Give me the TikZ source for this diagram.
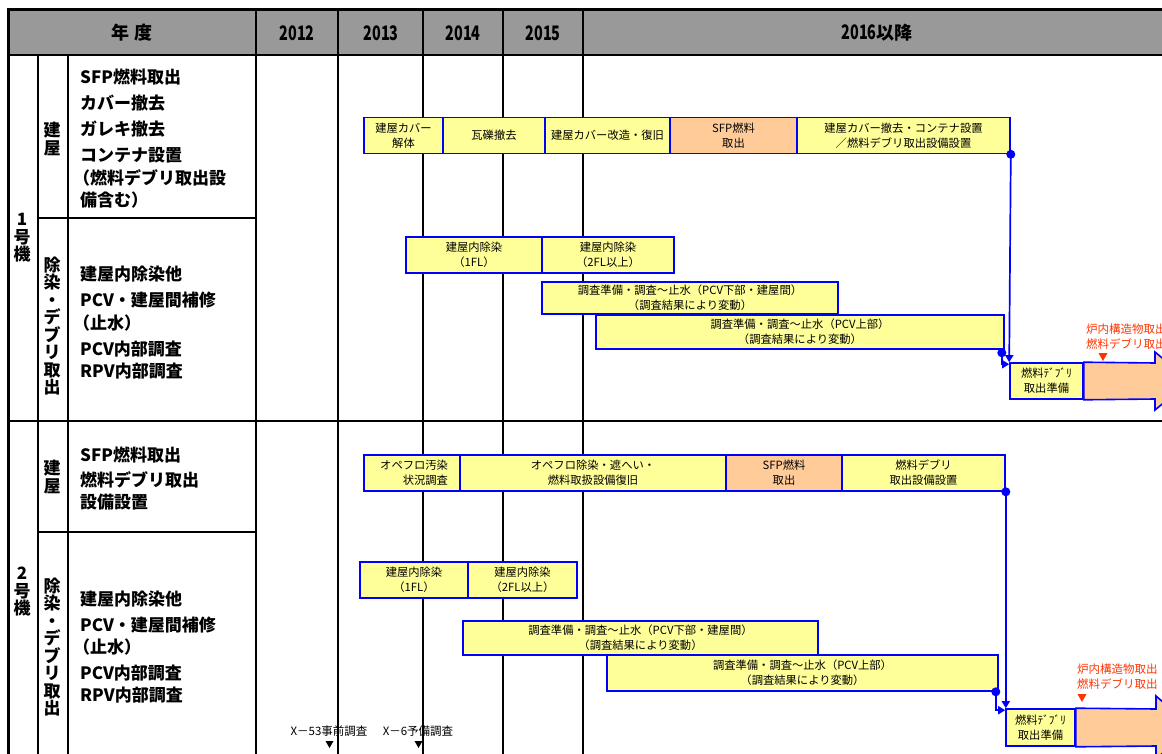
\documentclass[tikz,border=0pt]{standalone}
\usepackage{fontspec}
\setmainfont{Noto Sans CJK JP}
\usetikzlibrary{arrows.meta,calc}
\definecolor{hdrgray}{HTML}{999999}
\definecolor{barY}{HTML}{FFFF99}
\definecolor{barO}{HTML}{FFCC99}
\definecolor{barB}{HTML}{0000FF}
\definecolor{redtxt}{HTML}{FF3300}
\tikzset{
  gridln/.style={line width=1.8pt, black},
  thickln/.style={line width=2.5pt, black},
  ybar/.style={draw=barB, line width=1.6pt, fill=barY, inner sep=0pt, align=center,
    font=\fontsize{11.3}{15}\selectfont},
  obar/.style={draw=barB, line width=1.6pt, fill=barO, inner sep=0pt, align=center,
    font=\fontsize{11.3}{15}\selectfont},
  lbl/.style={font=\bfseries\fontsize{17}{22}\selectfont, anchor=west, inner sep=0pt},
  vtxt/.style={font=\bfseries\fontsize{17}{17.5}\selectfont, align=center, inner sep=0pt},
  hdr/.style={font=\bfseries\fontsize{18}{18}\selectfont, inner sep=0pt},
  conn/.style={draw=barB, line width=1.7pt},
  dotn/.style={circle, fill=barB, inner sep=0pt, minimum size=9pt},
  redt/.style={text=redtxt, font=\fontsize{11.5}{15}\selectfont, anchor=west, inner sep=0pt},
  smallt/.style={font=\fontsize{11.5}{15}\selectfont, inner sep=0pt},
  tip/.style={-{Triangle[width=8pt,length=7pt]}},
}
\newcommand{\yr}[1]{\scalebox{0.72}[1]{\fontsize{20}{20}\selectfont #1}}
\begin{document}
\begin{tikzpicture}[x=1pt,y=-1pt]
\useasboundingbox (0,0) rectangle (1162,754);
\clip (0,0) rectangle (1162,754);
% header
\fill[hdrgray] (8,10) rectangle (1175,55);
\node[hdr] (hy) at (132,33) {年\hspace{6pt}度};
\node[hdr] (h12) at (297,33) {\yr{2012}};
\node[hdr] (h13) at (381,33) {\yr{2013}};
\node[hdr] (h14) at (463,33) {\yr{2014}};
\node[hdr] (h15) at (543,33) {\yr{2015}};
\node[hdr] (h16) at (877,33) {\yr{2016}以降};
% grid
\foreach \x in {256,338,423,503,583} \draw[gridln] (\x,10) -- (\x,760);
\draw[gridln] (38,55) -- (38,760);
\draw[gridln] (68,55) -- (68,760);
\draw[gridln] (38,218) -- (256,218);
\draw[gridln] (38,532) -- (256,532);
\draw[thickln] (8,421) -- (1175,421);
\draw[thickln] (8,55) -- (1175,55);
\draw[line width=3pt] (6.5,10) -- (1175,10);
\draw[line width=3pt] (8,8.5) -- (8,760);
% vertical labels
\node[vtxt] (u1) at (22,238) {1\\号\\機};
\node[vtxt] (u1b) at (52,139) {建\\屋};
\node[vtxt] (u1d) at (52,326) {除\\染\\・\\デ\\ブ\\リ\\取\\出};
\node[vtxt] (u2) at (22,592) {2\\号\\機};
\node[vtxt] (u2b) at (52,477) {建\\屋};
\node[vtxt] (u2d) at (52,647) {除\\染\\・\\デ\\ブ\\リ\\取\\出};
% item labels unit 1
\node[lbl] (la1) at (80,77) {SFP燃料取出};
\node[lbl] (la2) at (80,103) {カバー撤去};
\node[lbl] (la3) at (80,129) {ガレキ撤去};
\node[lbl] (la4) at (80,155) {コンテナ設置};
\node[lbl] (la5) at (73,178) {（燃料デブリ取出設};
\node[lbl] (la6) at (80,200) {備含む）};
\node[lbl] (lb1) at (80,274) {建屋内除染他};
\node[lbl] (lb2) at (80,300) {PCV・建屋間補修};
\node[lbl] (lb3) at (73,323) {（止水）};
\node[lbl] (lb4) at (80,349) {PCV内部調査};
\node[lbl] (lb5) at (80,371) {RPV内部調査};
% item labels unit 2
\node[lbl] (lc1) at (80,455) {SFP燃料取出};
\node[lbl] (lc2) at (80,480) {燃料デブリ取出};
\node[lbl] (lc3) at (80,502) {設備設置};
\node[lbl] (ld1) at (80,599) {建屋内除染他};
\node[lbl] (ld2) at (80,625) {PCV・建屋間補修};
\node[lbl] (ld3) at (73,647) {（止水）};
\node[lbl] (ld4) at (80,673) {PCV内部調査};
\node[lbl] (ld5) at (80,695) {RPV内部調査};
% unit 1 building bars
\node[ybar, minimum width=79pt, minimum height=36pt] (b1a) at (403.5,135.5) {建屋カバー\\解体};
\node[ybar, minimum width=102pt, minimum height=36pt] (b1b) at (494,135.5) {瓦礫撤去};
\node[ybar, minimum width=125pt, minimum height=36pt] (b1c) at (607.5,135.5) {建屋カバー改造・復旧};
\node[obar, minimum width=127pt, minimum height=36pt] (b1d) at (733.5,135.5) {SFP燃料\\取出};
\node[ybar, minimum width=213pt, minimum height=36pt] (b1e) at (903.5,135.5) {建屋カバー撤去・コンテナ設置\\／燃料デブリ取出設備設置};
% unit 1 decon bars
\node[ybar, minimum width=136pt, minimum height=36pt] (d1a) at (474,255) {建屋内除染\\（1FL）};
\node[ybar, minimum width=132pt, minimum height=36pt] (d1b) at (608,255) {建屋内除染\\（2FL以上）};
\node[ybar, minimum width=296pt, minimum height=32pt] (d1c) at (690,298) {調査準備・調査～止水（PCV下部・建屋間）\\（調査結果により変動）};
\node[ybar, minimum width=408pt, minimum height=34pt] (d1d) at (800,332) {調査準備・調査～止水（PCV上部）\\（調査結果により変動）};
\node[ybar, minimum width=73pt, minimum height=36pt] (d1e) at (1046.5,381) {燃料ﾃﾞﾌﾞﾘ\\取出準備};
\draw[obar] (d1e.north east) -- (1155,363) -- (1155,352) -- (1190,381) -- (1155,410) -- (1155,399) -- (d1e.south east) -- cycle;
% unit 1 connectors
\draw[conn, tip] (b1e.south east) -- (d1e.north west);
\node[dotn] (p1) at (b1e.south east) {};
\draw[conn, tip] ($(d1d.south east)+(-3,3)$) |- ($(d1e.north west)+(0,2)$);
\node[dotn] (p2) at ($(d1d.south east)+(-3,3)$) {};
% unit 1 red notes
\node[redt] (r1a) at (1086,329) {炉内構造物取出};
\node[redt] (r1b) at (1086,344) {燃料デブリ取出};
\fill[redtxt] (1098.5,353) -- (1107.5,353) -- (1103,361) -- cycle;
% unit 2 building bars
\node[ybar, minimum width=96pt, minimum height=36pt, text width=72pt, inner xsep=12pt, align=right] (b2a) at (412,473) {オペフロ汚染\\状況調査};
\node[ybar, minimum width=266pt, minimum height=36pt] (b2b) at (593,473) {オペフロ除染・遮へい・\\燃料取扱設備復旧};
\node[obar, minimum width=116pt, minimum height=36pt] (b2c) at (784,473) {SFP燃料\\取出};
\node[ybar, minimum width=163pt, minimum height=36pt] (b2d) at (923.5,473) {燃料デブリ\\取出設備設置};
% unit 2 decon bars
\node[ybar, minimum width=108pt, minimum height=36pt] (d2a) at (414,580) {建屋内除染\\（1FL）};
\node[ybar, minimum width=109pt, minimum height=36pt] (d2b) at (522.5,580) {建屋内除染\\（2FL以上）};
\node[ybar, minimum width=355pt, minimum height=34pt] (d2c) at (640.5,638) {調査準備・調査～止水（PCV下部・建屋間）\\（調査結果により変動）};
\node[ybar, minimum width=391pt, minimum height=36pt] (d2d) at (802.5,673) {調査準備・調査～止水（PCV上部）\\（調査結果により変動）};
\node[ybar, minimum width=69pt, minimum height=37pt] (d2e) at (1040.5,727.5) {燃料ﾃﾞﾌﾞﾘ\\取出準備};
\draw[obar] (d2e.north east) -- (1156,709) -- (1156,696) -- (1192,727.5) -- (1156,759) -- (1156,746) -- (d2e.south east) -- cycle;
% unit 2 connectors
\draw[conn, tip] (b2d.south east) -- (b2d.south east |- d2e.north);
\node[dotn] (p3) at (b2d.south east) {};
\draw[conn, tip] ($(d2d.south east)+(-3,0)$) |- ($(d2e.north west)+(0,2)$);
\node[dotn] (p4) at ($(d2d.south east)+(-3,0)$) {};
% unit 2 red notes
\node[redt] (r2a) at (1077,669) {炉内構造物取出};
\node[redt] (r2b) at (1077,684) {燃料デブリ取出};
\fill[redtxt] (1077.5,694) -- (1086.5,694) -- (1082,702) -- cycle;
% bottom notes
\node[smallt] (x53) at (329,731) {X－53事前調査};
\node[smallt] (x6) at (418,731) {X－6予備調査};
\fill[black] (325.5,741) -- (333.5,741) -- (329.5,748) -- cycle;
\fill[black] (414.5,741) -- (422.5,741) -- (418.5,748) -- cycle;
\end{tikzpicture}
\end{document}
